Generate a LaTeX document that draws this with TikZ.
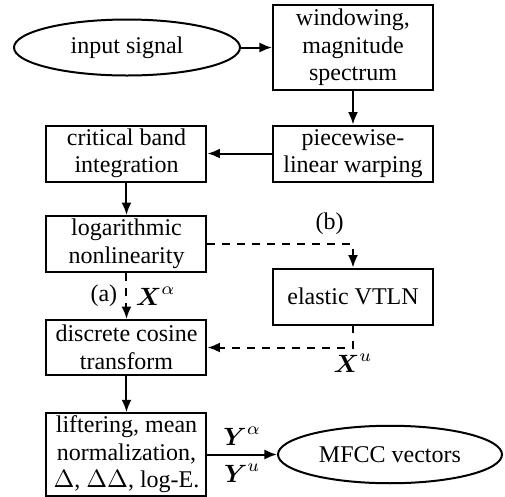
\documentclass[tikz,border=0pt]{standalone}
\usepackage{amsmath}
\usepackage{fontspec}
\setmainfont{Liberation Serif}
\usetikzlibrary{arrows, arrows.meta, positioning, shapes}
\newcommand{\boxwidth}{64pt}
\newcommand{\boxheight}{22.4pt}
\tikzstyle{terminal} = [% input signal and resulting feature vectors
  ellipse,
  minimum width=90.4pt,
  minimum height=22.4pt,
  inner sep=0.5pt,
  text centered,
  draw=black,
  thick
  ]
\tikzstyle{process} = [% processing stages of the front end
  rectangle,
  minimum width=\boxwidth,
  minimum height=\boxheight,
  inner sep=0.5pt,
  align=center,
  draw=black,
  thick
  ]
\tikzstyle{arrow} = [% arrow format
  thick,
  ->,
  >={Latex[length=5pt,width=4pt]}
  ]
\tikzstyle{dasharrow} = [% alternative paths
  arrow,
  dashed
  ]

\begin{document}
\begin{tikzpicture}[on grid, font=\fontsize{9.6}{11}\selectfont]
\useasboundingbox (0,0) rectangle (202pt,-198.8pt);

%%% Nodes
\node[process, minimum height=34pt] (win) at (141.2pt,-19pt) {windowing,\\magnitude\\spectrum};
\node[terminal] (inp) [left=90.4pt of win] {input signal};
\node[process] (warp) [below=42.4pt of win] {piecewise-\\linear warping};
\node[process] (cbi) [left=90.6pt of warp] {critical band\\integration};
\node[process] (lognl) [below=36.2pt of cbi] {logarithmic\\nonlinearity};
\node[process, minimum height=22pt] (dct) [below=41.4pt of lognl] {discrete cosine\\transform};
\node[process] (vtln) [below=57.2pt of warp] {elastic VTLN};
\node[process, minimum height=33pt] (lift) [below=42.8pt of dct] {liftering, mean\\normalization,\\$\Delta$, $\Delta\Delta$, log-E.};
\node[terminal, minimum width=89.6pt, minimum height=23pt] (mfcc) [right=105.4pt of lift] {MFCC vectors};

%%%
\draw[arrow] (inp) -- (win);
\draw[arrow] (win) -- (warp);
\draw[arrow] (warp) -- (cbi);
\draw[arrow] (cbi) -- (lognl);
\draw[dasharrow] (lognl) -- node[left] {(a)} node[right] {$\boldsymbol{X}^{\alpha}$} (dct);
\draw[dasharrow] (lognl.east) -| node[pos=0.42, above] {(b)} (vtln.north);
\draw[dasharrow] (vtln.south) |- node[pos=0.5, below, inner sep=2pt] {$\boldsymbol{X}^{u}$} (dct.east);
\draw[arrow] (dct) -- (lift);
\draw[arrow] (lift) -- node[above] {$\boldsymbol{Y}^{\alpha}$} node[below] {$\boldsymbol{Y}^{u}$} (mfcc);

\end{tikzpicture}
\end{document}
